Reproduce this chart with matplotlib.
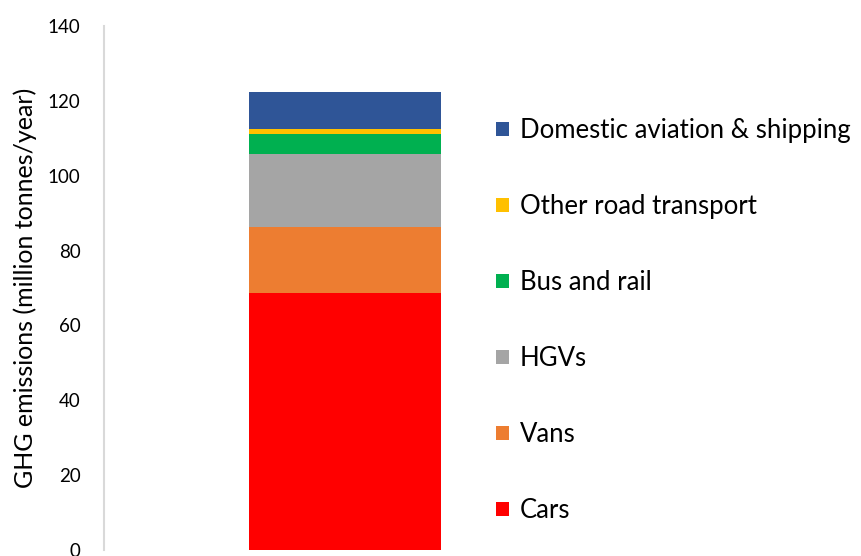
import numpy as np
import matplotlib.pyplot as plt
from matplotlib.patches import Patch

plt.rcParams['font.family'] = ['Lato', 'DejaVu Sans']

# GHG emissions by transport mode (million tonnes/year), bottom to top
modes = ['Cars', 'Vans', 'HGVs', 'Bus and rail', 'Other road transport',
         'Domestic aviation & shipping']
values = [68.7, 17.6, 19.5, 5.3, 1.4, 9.9]
colors = ['#ff0000', '#ed7d31', '#a5a5a5', '#00b050', '#ffc000', '#2f5597']
yticks = [0, 20, 40, 60, 80, 100, 120, 140]

fig = plt.figure(figsize=(8.62, 5.56), dpi=100)
ax = fig.add_axes([104 / 862, 6 / 556, 482 / 862, 524 / 556])

bottom = 0
for name, v, c in zip(modes, values, colors):
    ax.bar(0, v, width=0.398, bottom=bottom, color=c, label=name)
    bottom += v

ax.set_xlim(-0.5, 0.5)
ax.set_ylim(0, 140)
ax.set_yticks(yticks)
ax.set_xticks([])
ax.tick_params(axis='y', length=0, pad=17, labelsize=13.5)
for s in ['top', 'right', 'bottom']:
    ax.spines[s].set_visible(False)
ax.spines['left'].set_color('#d9d9d9')
ax.spines['left'].set_linewidth(1.5)
ax.set_ylabel('GHG emissions (million tonnes/year)', fontsize=18, labelpad=8)

handles = [Patch(facecolor=c, edgecolor='none') for c in colors][::-1]
fig.legend(handles, modes[::-1], loc='upper left',
           bbox_to_anchor=(486 / 862, 1 - 108 / 556), frameon=False,
           fontsize=18.5, handlelength=0.5, handleheight=0.5,
           handletextpad=0.42, labelspacing=1.985, borderaxespad=0)

fig.savefig('out.png', dpi=100)
